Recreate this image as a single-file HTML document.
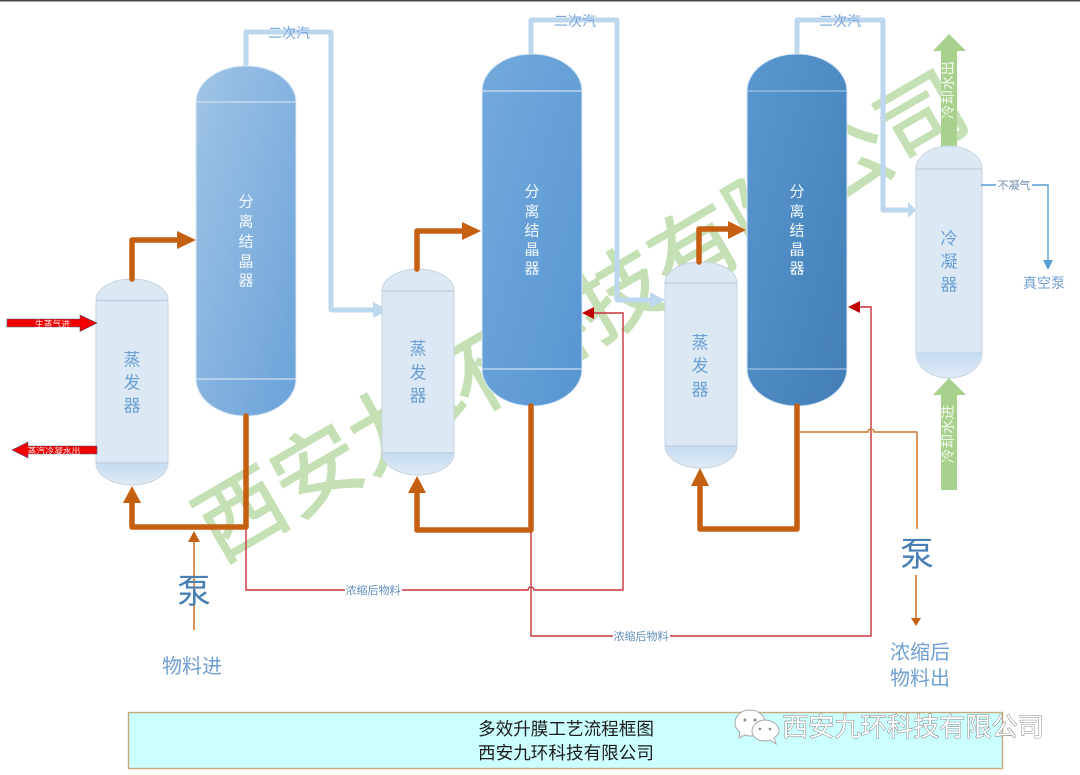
<!DOCTYPE html>
<html lang="zh">
<head>
<meta charset="utf-8">
<title>多效升膜工艺流程框图</title>
<style>
html,body{margin:0;padding:0;background:#fff;width:1080px;height:775px;overflow:hidden}
svg{display:block;filter:blur(.35px)}
text{font-family:"Liberation Sans","Noto Sans CJK SC",sans-serif;text-anchor:middle;dominant-baseline:central}
</style>
</head>
<body>
<svg width="1080" height="775" viewBox="0 0 1080 775" xmlns="http://www.w3.org/2000/svg">
<defs>
<linearGradient id="s1" x1="0" y1="0" x2="1" y2="1"><stop offset="0" stop-color="#a0c4e6"/><stop offset="1" stop-color="#6aa2d9"/></linearGradient>
<linearGradient id="s2" x1="0" y1="0" x2="1" y2="1"><stop offset="0" stop-color="#74aadd"/><stop offset="1" stop-color="#5795d1"/></linearGradient>
<linearGradient id="s3" x1="0" y1="0" x2="1" y2="1"><stop offset="0" stop-color="#5a96d0"/><stop offset="1" stop-color="#437fb6"/></linearGradient>
<linearGradient id="cap" x1="0" y1="0" x2="0" y2="1"><stop offset="0" stop-color="#c4dbf0"/><stop offset="1" stop-color="#dfeaf5"/></linearGradient>
</defs>
<rect width="1080" height="775" fill="#fff"/>
<rect width="1080" height="1.5" fill="#444"/>

<!-- background watermark -->
<text transform="translate(582 317) rotate(-30.2)" font-size="87.500" fill="#c5e0b4" stroke="#c5e0b4" stroke-width="1.600">西安九环科技有限公司</text>

<!-- secondary steam pipes -->
<g fill="none" stroke="#bdd7ee" stroke-width="5" stroke-linejoin="round">
<path d="M246 68V32H331V310H374"/>
<path d="M531 56V20H617V300H652"/>
<path d="M797 56V20H883V210H909"/>
</g>
<g fill="#bdd7ee">
<path d="M389 310L373 302V318Z"/>
<path d="M665 300L650 292V308Z"/>
<path d="M916 210L908 202V218Z"/>
</g>

<!-- green cooling water arrows -->
<path d="M941 148V51H933L949 34L966 51H957V148Z" fill="#a9d18e"/>
<path d="M941 490V395H933L949 378L966 395H957V490Z" fill="#a9d18e"/>
<text transform="translate(949 90) rotate(-90)" font-size="14.500" fill="#f2f8ee">冷却水出</text>
<text transform="translate(949 434) rotate(-90)" font-size="14.500" fill="#f2f8ee">冷却水进</text>

<!-- separators -->
<g stroke="#dbe9f6" stroke-width="1">
<path d="M196 102A50 36 0 0 1 296 102V379A50 37 0 0 1 196 379Z" fill="url(#s1)"/>
<path d="M482 91A50 37 0 0 1 582 91V369A50 37 0 0 1 482 369Z" fill="url(#s2)"/>
<path d="M747 91A50 37 0 0 1 847 91V369A50 37 0 0 1 747 369Z" fill="url(#s3)"/>
</g>
<g stroke="#cfe0f1" stroke-width="1.200">
<path d="M196 102H296M196 379H296M482 91H582M482 369H582"/>
<path d="M747 91H847M747 369H847" stroke="#9fc0e0"/>
</g>

<!-- evaporators / condenser -->
<g fill="#dce8f4" stroke="#c6d3e0" stroke-width="1">
<path d="M96 300A36 21 0 0 1 168 300V463A36 22 0 0 1 96 463Z"/>
<path d="M382 291A36 22 0 0 1 454 291V453A36 22 0 0 1 382 453Z"/>
<path d="M665 283A36 21 0 0 1 737 283V446A36 22 0 0 1 665 446Z"/>
<path d="M916 169A33 23 0 0 1 982 169V353A33 25 0 0 1 916 353Z"/>
</g>
<g fill="url(#cap)">
<path d="M97 463H167A35 21 0 0 1 97 463Z"/>
<path d="M383 453H453A35 21 0 0 1 383 453Z"/>
<path d="M666 446H736A35 21 0 0 1 666 446Z"/>
<path d="M917 353H981A32 24 0 0 1 917 353Z"/>
</g>
<g stroke="#bfccd9" stroke-width="1.200">
<path d="M96 300.500H168M96 463H168M382 291H454M382 453H454M665 283H737M665 446H737M916 169H982"/>
<path d="M916 353H982" stroke="#bcd6ee"/>
</g>

<!-- thin red recycle lines -->
<g fill="none" stroke="#c8343c" stroke-width="1.400">
<path d="M246 527V590H528A3 3 0 0 1 534 590H623V313H594"/>
<path d="M531 530V636H871V307H860"/>
</g>
<path d="M582 313L594 307V319Z" fill="#c00000"/>
<path d="M848 307L860 301V313Z" fill="#c00000"/>
<rect x="345" y="584" width="57" height="12" fill="#fff"/>
<rect x="613" y="630" width="57" height="12" fill="#fff"/>
<text x="373" y="591" font-size="11" fill="#5f8fbd">浓缩后物料</text>
<text x="641" y="637" font-size="11" fill="#5f8fbd">浓缩后物料</text>

<!-- thick orange pipes -->
<g fill="none" stroke="#c55f12" stroke-width="5.500" stroke-linejoin="round" stroke-linecap="round">
<path d="M132 279V240H178"/>
<path d="M132 500V527H246V416"/>
<path d="M417 269V231H463"/>
<path d="M417 490V530H531V406"/>
<path d="M699 262V229H730"/>
<path d="M700 484V529H797V406"/>
</g>
<g fill="#c55f12">
<path d="M196 240L177 231V249Z"/>
<path d="M132 486L123 503H141Z"/>
<path d="M481 231L462 222V240Z"/>
<path d="M417 476L408 493H426Z"/>
<path d="M746 230L728 221V239Z"/>
<path d="M700 468L691 486H709Z"/>
<path d="M194 531L188 542H200Z"/>
<path d="M916 626L911 618H921Z"/>
</g>
<g fill="none" stroke="#c96a24" stroke-width="1.500">
<path d="M194 540V630"/>
<path d="M916 575V620"/>
</g>
<path d="M800 432H868A3 3 0 0 1 874 432H917V529" fill="none" stroke="#d2752f" stroke-width="1.500"/>

<!-- blue vacuum line -->
<path d="M981 185H1048V262" fill="none" stroke="#5b9bd5" stroke-width="1.400"/>
<path d="M1048 270L1043 260H1053Z" fill="#5b9bd5"/>
<rect x="996" y="179" width="36" height="12" fill="#fff"/>
<text x="1014" y="186" font-size="11" fill="#6f8fb0">不凝气</text>
<text x="1044" y="283" font-size="14" fill="#6f9fd2">真空泵</text>

<!-- red steam arrows -->
<path d="M7 319H80V315L97 323L80 331.500V327H7Z" fill="#f00000" stroke="#4a5a80" stroke-width=".6"/>
<text x="52.500" y="324" font-size="8.800" fill="#ffe4e4">生蒸气进</text>
<path d="M97 446H28V442L12 450L28 458V454H97Z" fill="#f00000" stroke="#4a5a80" stroke-width=".6"/>
<text x="54" y="451" font-size="8.800" fill="#ffe4e4">蒸汽冷凝水出</text>

<!-- steam labels -->
<g font-size="14" fill="#7ba7d9">
<text x="289" y="33">二次汽</text>
<text x="575" y="21">二次汽</text>
<text x="840" y="21">二次汽</text>
</g>

<!-- separator labels -->
<g font-size="15" fill="#f2f7fc">
<text x="246" y="202">分</text><text x="246" y="222">离</text><text x="246" y="242">结</text><text x="246" y="262">晶</text><text x="246" y="281">器</text>
<text x="532" y="192">分</text><text x="532" y="212">离</text><text x="532" y="231">结</text><text x="532" y="250">晶</text><text x="532" y="269">器</text>
<text x="797" y="192">分</text><text x="797" y="212">离</text><text x="797" y="231">结</text><text x="797" y="250">晶</text><text x="797" y="269">器</text>
</g>

<!-- evaporator labels -->
<g font-size="17" fill="#6a9fd4">
<text x="132" y="360">蒸</text><text x="132" y="383">发</text><text x="132" y="406">器</text>
<text x="418" y="349">蒸</text><text x="418" y="373">发</text><text x="418" y="396">器</text>
<text x="700" y="343">蒸</text><text x="700" y="366">发</text><text x="700" y="390">器</text>
<text x="949" y="239">冷</text><text x="949" y="262">凝</text><text x="949" y="285">器</text>
</g>

<!-- pumps and material labels -->
<text x="194" y="592" font-size="34" fill="#4a7fb5">泵</text>
<text x="917" y="555" font-size="34" fill="#4a7fb5">泵</text>
<text x="192" y="667" font-size="20" fill="#6f9fd2">物料进</text>
<text x="920" y="653" font-size="20" fill="#6f9fd2">浓缩后</text>
<text x="920" y="679" font-size="20" fill="#6f9fd2">物料出</text>

<!-- title box -->
<rect x="128.500" y="712.500" width="874" height="56" fill="#ccffff" stroke="#c9a77c" stroke-width="1.400"/>
<text x="566" y="729" font-size="17.600" fill="#1a1a1a">多效升膜工艺流程框图</text>
<text x="566" y="753" font-size="17.600" fill="#1a1a1a">西安九环科技有限公司</text>

<!-- WeChat mark and caption -->
<g fill="#fff" stroke="#a8a8a8" stroke-width="1">
<path d="M750 710C741 710 735 716 735 723C735 727 737 730 740 732L739 738L745 735C747 736 749 736 751 736C758 736 765 730 765 723C765 716 759 710 750 710Z"/>
<path d="M765 720C758 720 752 725 752 731C752 737 758 741 765 741C767 741 769 741 770 740L776 744L774 738C777 736 779 734 779 731C779 725 772 720 765 720Z"/>
</g>
<g fill="#8a8a8a"><circle cx="745" cy="720" r="1.500"/><circle cx="755" cy="720" r="1.500"/><circle cx="760" cy="729" r="1.300"/><circle cx="770" cy="729" r="1.300"/></g>
<text x="913" y="727" font-size="26.200" fill="#fff" stroke="#666" stroke-width=".8" paint-order="stroke">西安九环科技有限公司</text>
</svg>
</body>
</html>
